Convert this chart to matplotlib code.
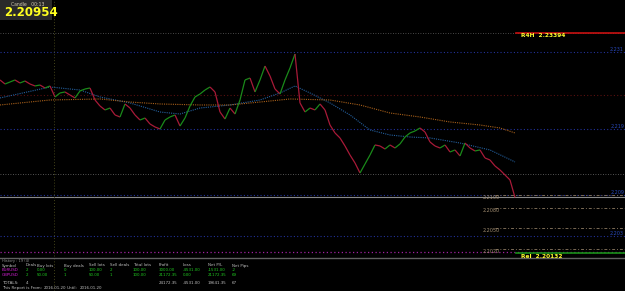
import matplotlib
matplotlib.use("Agg")
import matplotlib.pyplot as plt
from matplotlib.patches import Rectangle

# precos de fechamento (um ponto a cada ~5 px)
closes = [
    2.22697, 2.22637, 2.22667, 2.22697, 2.22652, 2.22682, 2.22637, 2.22608, 2.22622, 2.22578,
    2.22608, 2.22445, 2.22504, 2.22519, 2.22474, 2.22430, 2.22534, 2.22563, 2.22578, 2.22400,
    2.22311, 2.22252, 2.22281, 2.22178, 2.22148, 2.22341, 2.22281, 2.22178, 2.22103, 2.22133,
    2.22044, 2.22000, 2.21970, 2.22103, 2.22148, 2.22178, 2.22014, 2.22133, 2.22311, 2.22445,
    2.22489, 2.22548, 2.22593, 2.22519, 2.22222, 2.22118, 2.22281, 2.22192, 2.22400, 2.22697,
    2.22726, 2.22519, 2.22697, 2.22904, 2.22756, 2.22563, 2.22489, 2.22697, 2.22875, 2.23082,
    2.22356, 2.22222, 2.22281, 2.22252, 2.22341, 2.22252, 2.22029, 2.21911, 2.21837, 2.21718,
    2.21584, 2.21466, 2.21317, 2.21451, 2.21584, 2.21733, 2.21718, 2.21673, 2.21733, 2.21688,
    2.21748, 2.21851, 2.21911, 2.21940, 2.21985, 2.21925, 2.21777, 2.21718, 2.21688, 2.21733,
    2.21629, 2.21659, 2.21570, 2.21762, 2.21688, 2.21644, 2.21659, 2.21540, 2.21510, 2.21421,
    2.21362, 2.21288, 2.21214, 2.20954,
]

ma_fast_x = [0, 10, 16, 20, 26, 32, 36, 40, 46, 52, 56, 59, 62, 66, 70, 74, 78, 82, 86, 92, 98, 103]
ma_fast = [2.22430, 2.22593, 2.22548, 2.22445, 2.22356, 2.22222, 2.22192, 2.22281, 2.22326, 2.22400,
           2.22504, 2.22608, 2.22504, 2.22356, 2.22178, 2.21955, 2.21881, 2.21851, 2.21837, 2.21762,
           2.21659, 2.21481]

ma_slow_x = [0, 10, 20, 26, 32, 40, 46, 52, 58, 66, 72, 78, 84, 90, 96, 100, 103]
ma_slow = [2.22326, 2.22400, 2.22415, 2.22370, 2.22341, 2.22326, 2.22326, 2.22370, 2.22415, 2.22400,
           2.22326, 2.22207, 2.22148, 2.22074, 2.22029, 2.21985, 2.21911]

blue_levels = [2.23112, 2.21970, 2.20991, 2.20383]
blue_labels = ["2.231", "2.219", "2.209", "2.203"]
red_level = 2.22474
gray_level = 2.21303
magenta_level = 2.20146
pivot_levels = [2.20991, 2.20798, 2.20502, 2.20190]
pivot_labels = ["2.2100", "2.2080", "2.2050", "2.2020"]
r4h = 2.23394
rel = 2.20132
last_price = 2.20954

headers = ["Symbol", "Deals", "Buy lots", "Buy deals", "Sell lots", "Sell deals",
           "Total lots", "Profit", "Loss", "Net P/L", "Net Pips"]
row_eur = ["EURUSD", "2", "0.00", "0", "100.00", "2", "100.00", "3000.00", "-4531.00", "-1531.00", "-2"]
row_gbp = ["GBPUSD", "2", "50.00", "1", "50.00", "1", "100.00", "21172.35", "0.00", "21172.35", "69"]
totals = {"Deals": "4", "Profit": "24172.35", "Loss": "-4531.00", "Net P/L": "19641.35", "Net Pips": "67"}

W, H = 625, 291
col_x = [2, 26, 37, 64, 89, 110, 133, 159, 183, 208, 232]
FS = 2.9


def fx(px):
    return px / W


def fy(py):
    return 1 - py / H


fig = plt.figure(figsize=(6.25, 2.91), dpi=100, facecolor="black")
ax = fig.add_axes([0, 0, 1, 1], facecolor="black")
ax.set_xlim(0, 125)
ax.set_ylim(2.19567, 2.23883)
ax.axis("off")

# linhas de nivel
ax.axhline(r4h, color="#606060", ls=(0, (1, 2)), lw=0.6)
ax.plot([103.2, 125], [r4h, r4h], color="#c81010", lw=1.2)
for lv in blue_levels:
    ax.axhline(lv, color="#22329a", ls=(0, (1, 2)), lw=0.8)
ax.axhline(red_level, color="#5a1010", ls=(0, (1, 2)), lw=0.8)
ax.axhline(gray_level, color="#707070", ls=(0, (1, 2)), lw=0.6)
ax.axhline(last_price, color="#8a8a8a", lw=0.8)
ax.axhline(magenta_level, color="#a020a0", ls=(0, (1, 2)), lw=0.9)
ax.plot([103.2, 125], [rel, rel], color="#189018", lw=1.2)
for lv in pivot_levels:
    ax.plot([99, 125], [lv, lv], color="#7a6a55", ls=(0, (3, 2, 1, 2)), lw=0.7)
ax.axvline(10.8, color="#44441a", ls=(0, (1, 2)), lw=0.7)

# medias moveis
ax.plot(ma_fast_x, ma_fast, color="#24609e", ls=(0, (1, 1)), lw=0.8)
ax.plot(ma_slow_x, ma_slow, color="#a8601a", ls=(0, (1, 1)), lw=0.8)

# preco
for i in range(1, len(closes)):
    color = "#1a8a1a" if closes[i] >= closes[i - 1] else "#a81a38"
    ax.plot([i - 1, i], [closes[i - 1], closes[i]], color=color, lw=0.9, solid_capstyle="butt")

# rotulos dos niveis
for lv, lb in zip(blue_levels, blue_labels):
    ax.text(124.8, lv, lb, color="#2848b8", fontsize=3.5, va="bottom", ha="right")
for lv, lb in zip(pivot_levels, pivot_labels):
    ax.text(96.6, lv - 0.0004, lb, color="#a08c70", fontsize=3.5, va="center", ha="left")
ax.text(104.2, r4h - 0.0004, "R4H  " + f"{r4h:.5f}", color="#ffff30", fontsize=4.2,
        fontweight="bold", va="center")
ax.text(104.2, rel - 0.0006, "Rel  " + f"{rel:.5f}", color="#ffff30", fontsize=4.2,
        fontweight="bold", va="center")

# caixa do candle
fig.patches.append(Rectangle((0, fy(20)), fx(52), 20 / H, transform=fig.transFigure,
                             facecolor="#2a2a2a", edgecolor="none"))
fig.text(fx(11), fy(4), "Candle   00:13", color="#d0c8b0", fontsize=3.3, va="center")
fig.text(fx(4), fy(13), f"{last_price:.5f}", color="#ffff20", fontsize=8.5,
         fontweight="bold", va="center")

# painel inferior
ax.axhline(2.19567 + (H - 258) * 0.0001483, color="#606060", lw=1)
fig.text(fx(2), fy(261), "History : 19 (4)", color="#909090", fontsize=2.6, va="center")
for x, h in zip(col_x, headers):
    fig.text(fx(x), fy(265.5), h, color="#c0c0c0", fontsize=FS, va="center")
for row, py in [(row_eur, 270), (row_gbp, 274.5)]:
    for j, (x, v) in enumerate(zip(col_x, row)):
        c = "#d820d8" if j == 0 else "#20c820"
        fig.text(fx(x), fy(py), v, color=c, fontsize=FS, va="center")
fig.text(fx(2), fy(283), "TOTALS:", color="#c0c0c0", fontsize=FS, va="center")
for h, v in totals.items():
    fig.text(fx(col_x[headers.index(h)]), fy(283), v, color="#c0c0c0", fontsize=FS, va="center")
fig.text(fx(2), fy(288), "This Report is From:", color="#c0c0c0", fontsize=FS, va="center")
fig.text(fx(44), fy(288), "2016.01.20", color="#c0c0c0", fontsize=FS, va="center")
fig.text(fx(67), fy(288), "Until:", color="#c0c0c0", fontsize=FS, va="center")
fig.text(fx(80), fy(288), "2016.01.20", color="#c0c0c0", fontsize=FS, va="center")

fig.savefig("out.png", dpi=100, facecolor="black")
